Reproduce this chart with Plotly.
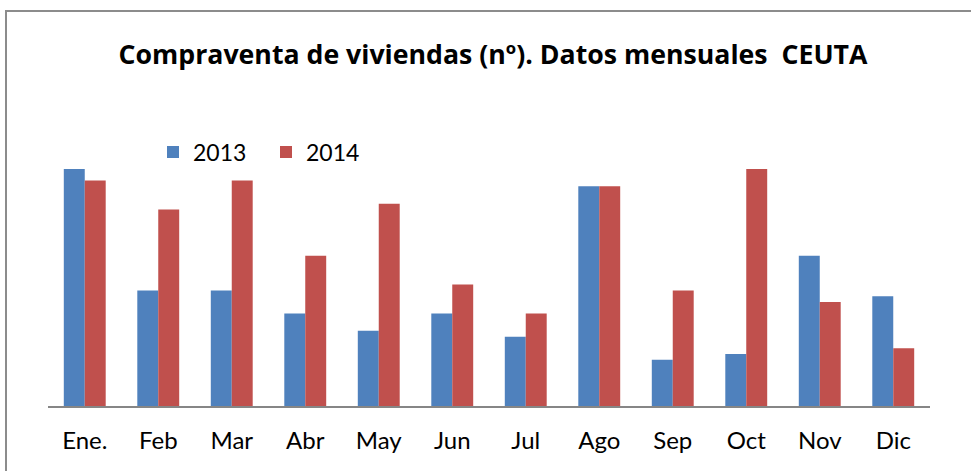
import plotly.graph_objects as go

months = ["Ene.", "Feb", "Mar", "Abr", "May", "Jun", "Jul", "Ago", "Sep", "Oct", "Nov", "Dic"]
v2013 = [41, 20, 20, 16, 13, 16, 12, 38, 8, 9, 26, 19]
v2014 = [39, 34, 39, 26, 35, 21, 16, 38, 20, 41, 18, 10]

W, H = 971, 471
L, R, T, B = 48, 41, 146, 65
pw = W - L - R
ph = H - T - B

fig = go.Figure()
fig.add_trace(go.Bar(name="2013", x=months, y=v2013, marker=dict(color="#4F81BD", line=dict(width=0))))
fig.add_trace(go.Bar(name="2014", x=months, y=v2014, marker=dict(color="#C0504D", line=dict(width=0))))

fig.update_layout(
    width=W, height=H,
    margin=dict(l=L, r=R, t=T, b=B),
    paper_bgcolor="white", plot_bgcolor="white",
    barmode="group", bargap=0.43, bargroupgap=0,
    font=dict(family="Lato, Open Sans, sans-serif", color="black"),
    title=dict(text="<b>Compraventa de viviendas (nº). Datos mensuales  CEUTA</b>",
               x=493 / W, xanchor="center", y=1 - 55 / H, yanchor="middle",
               font=dict(size=26.7, family="Open Sans, sans-serif", color="black")),
    legend=dict(orientation="h", x=(153 - L) / pw, xanchor="left",
                y=(H - B - 152) / ph, yanchor="middle",
                font=dict(size=23), bgcolor="rgba(0,0,0,0)",
                entrywidth=68, entrywidthmode="pixels", itemwidth=30),
    showlegend=True,
    xaxis=dict(showline=True, linecolor="#868686", linewidth=2, ticks="",
               tickfont=dict(size=24), showgrid=False, ticklabelstandoff=12),
    yaxis=dict(range=[0, ph / 5.78], visible=False, showgrid=False),
)

# outer chart frame
fig.add_shape(type="rect", xref="paper", yref="paper",
              x0=(6 - L) / pw, x1=(W + 10 - L) / pw,
              y0=(H - B - (H + 10)) / ph, y1=(H - B - 11) / ph,
              line=dict(color="#8c8c8c", width=2), fillcolor="rgba(0,0,0,0)", layer="below")

fig.write_html("out.html", config={"displayModeBar": False},
               post_script="document.body.style.margin='0px';document.body.style.overflow='hidden';")
